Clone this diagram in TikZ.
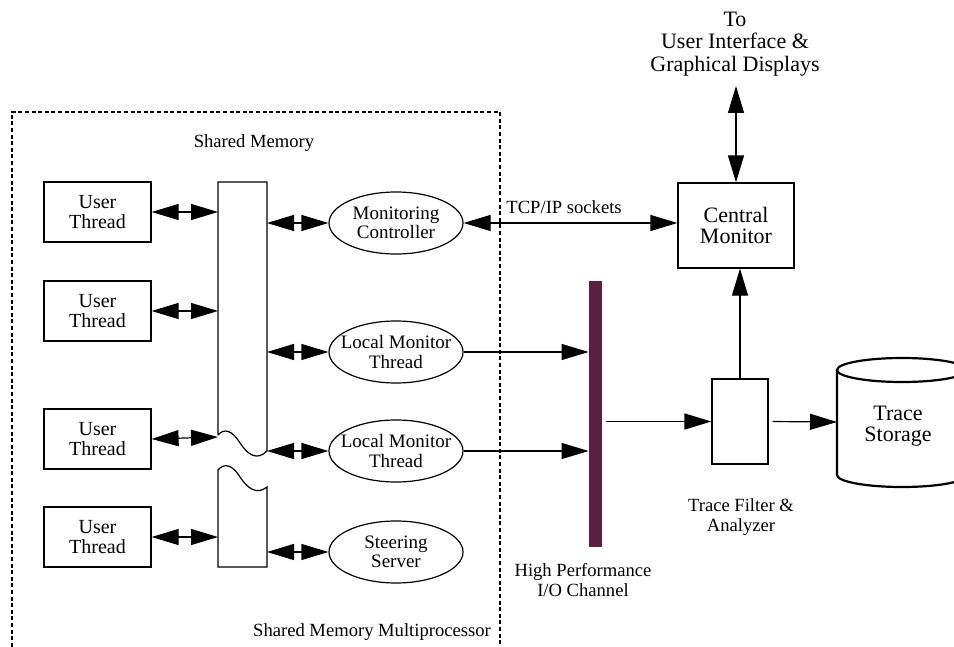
\documentclass[tikz,border=0pt]{standalone}
\usepackage{fontspec}
\setmainfont{Liberation Serif}
\usetikzlibrary{shapes.geometric,arrows.meta}
\definecolor{iochan}{RGB}{90,32,66}

\begin{document}
\begin{tikzpicture}[x=0.5pt,y=-0.5pt]
    \tikzset{
      every node/.style={font=\fontsize{9.3}{9.8}\selectfont, align=center},
      thread/.style={draw, line width=0.6pt, minimum width=53.5pt, minimum height=30pt, inner sep=0pt, font=\fontsize{10}{10.2}\selectfont},
      monitor/.style={draw, ellipse, line width=0.6pt, minimum width=67pt, minimum height=31pt, inner sep=0pt},
      bigbox/.style={draw, line width=0.6pt, inner sep=0pt, font=\fontsize{11}{10.8}\selectfont},
      dbl/.style={{Triangle[length=13.5pt,width=8pt]}-{Triangle[length=13.5pt,width=8pt]}, line width=0.6pt},
      sgl/.style={-{Triangle[length=13.5pt,width=8pt]}, line width=0.6pt},
      frame/.style={line width=0.7pt, dash pattern=on 2pt off 1.3pt},
    }
    \useasboundingbox (0,0) rectangle (954,647);

    % shared memory multiprocessor
    \draw[frame] (12,660) -- (12,112) -- (500,112) -- (500,660);
    \node (shmlbl) at (254,143) {Shared Memory};
    \node (smplbl) at (372,632) {Shared Memory Multiprocessor};

    \node[thread] (ut1) at (97.5,212) {User\\Thread};
    \node[thread] (ut2) at (97.5,311) {User\\Thread};
    \node[thread] (ut3) at (97.5,439) {User\\Thread};
    \node[thread] (ut4) at (97.5,537) {User\\Thread};

    % shared memory column, broken in two
    \draw[line width=0.6pt] (218,435) -- (218,182) -- (267,182) -- (267,451)
        .. controls (257,461) and (248,455) .. (240,443)
        .. controls (232,430) and (224,428) .. (218,435);
    \draw[line width=0.6pt] (218,470) .. controls (224,463) and (232,464) .. (240,477)
        .. controls (248,489) and (257,495) .. (267,487) -- (267,567) -- (218,567) -- cycle;
    \coordinate (shm-a) at (218,212);
    \coordinate (shm-b) at (218,311);
    \coordinate (shm-c) at (218,437);
    \coordinate (shm-d) at (218,537);
    \coordinate (shm-e) at (267,223);
    \coordinate (shm-f) at (267,352);
    \coordinate (shm-g) at (267,451);
    \coordinate (shm-h) at (267,552);

    \node[monitor, label={[font=\fontsize{9.5}{9.8}\selectfont, align=center]center:Monitoring\\Controller}] (mc) at (396,223) {};
    \node[monitor, label={[font=\fontsize{9.5}{9.8}\selectfont, align=center]center:Local Monitor\\Thread}] (lmt1) at (396,352) {};
    \node[monitor, label={[font=\fontsize{9.5}{9.8}\selectfont, align=center]center:Local Monitor\\Thread}] (lmt2) at (396,451) {};
    \node[monitor, label={[font=\fontsize{9.5}{9.8}\selectfont, align=center]center:Steering\\Server}] (ss) at (396,552) {};

    \draw[dbl] (ut1.east) -- (shm-a);
    \draw[dbl] (ut2.east) -- (shm-b);
    \draw[dbl] (ut3.east) -- (shm-c);
    \draw[dbl] (ut4.east) -- (shm-d);
    \draw[dbl] (shm-e) -- (mc.west);
    \draw[dbl] (shm-f) -- (lmt1.west);
    \draw[dbl] (shm-g) -- (lmt2.west);
    \draw[dbl] (shm-h) -- (ss.west);

    % outside the multiprocessor
    \node[bigbox, minimum width=58pt, minimum height=42.5pt] (cm) at (736,225.5) {Central\\Monitor};
    \node[font=\fontsize{11}{11.2}\selectfont] (uilbl) at (735,44) {To\\User Interface \&\\Graphical Displays};
    \coordinate (ui) at (736,86);
    \draw[dbl] (ui) -- (cm.north);
    \draw[dbl] (mc.east) -- (mc.east -| cm.west) node[pos=0.47, above=1pt] {TCP/IP sockets};

    \node[fill=iochan, minimum width=6.5pt, minimum height=133pt, inner sep=0pt] (io) at (595.5,414) {};
    \node (iolbl) at (583,580) {High Performance\\I/O Channel};
    \draw[sgl] (lmt1.east) -- (lmt1.east -| io.west);
    \draw[sgl] (lmt2.east) -- (lmt2.east -| io.west);

    \node[bigbox, minimum width=28pt, minimum height=42.5pt] (tf) at (740,421.5) {};
    \node (tflbl) at (741,517) {Trace Filter \&\\Analyzer};
    \draw[sgl, shorten <=2pt] (io.east |- tf.west) -- (tf.west);
    \draw[sgl] (tf.north) -- (tf.north |- cm.south);

    % trace storage drum
    \draw[line width=1.1pt] (837,370) -- (837,475) arc[start angle=180, end angle=360, x radius=32.5pt, y radius=6pt] -- (967,370);
    \draw[line width=1.1pt] (902,370) ellipse [x radius=32.5pt, y radius=6pt];
    \node[font=\fontsize{11}{10.8}\selectfont] (store) at (898,426) {Trace\\Storage};
    \coordinate (store-in) at (837,422);
    \draw[sgl, shorten <=2pt] (tf.east) -- (store-in);
\end{tikzpicture}
\end{document}
